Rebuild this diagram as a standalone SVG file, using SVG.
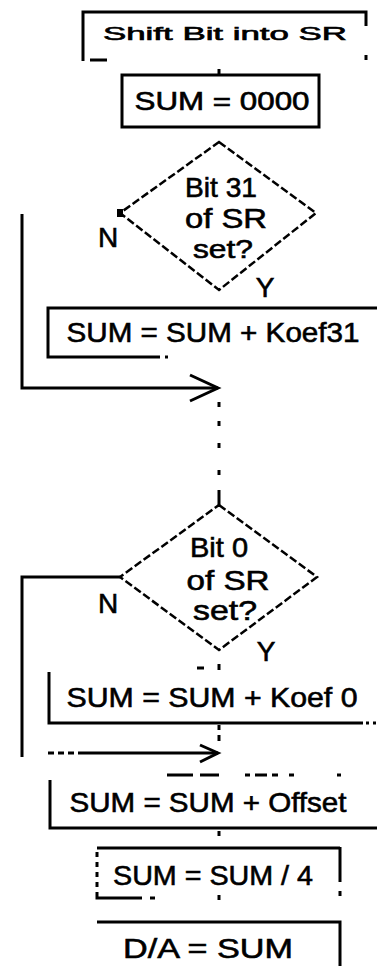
<svg xmlns="http://www.w3.org/2000/svg" width="377" height="966" viewBox="0 0 377 966">
<style>
.ln{fill:none;stroke:#000;stroke-width:3;stroke-linecap:butt}
.dm{fill:none;stroke:#000;stroke-width:2.5;stroke-dasharray:8 3}
.t{font-family:"Liberation Sans",Arial,sans-serif;fill:#000;stroke:#000;stroke-width:0.6;text-anchor:middle}
.big{font-size:28px}
.sm{font-size:18px}
</style>
<defs>
<marker id="chev" markerWidth="12" markerHeight="12" refX="0" refY="0" orient="auto" markerUnits="userSpaceOnUse" viewBox="-28 -15 30 30">
<path d="M-27,-13 L0,0 L-27,13" fill="none" stroke="#000" stroke-width="3"/>
</marker>
</defs>
<rect width="377" height="966" fill="#fff"/>

<g id="connectors">
<line class="ln" x1="219" y1="69" x2="219" y2="75"/>
<polyline class="ln" points="22,214 22,388 218,388"/>
<path class="ln" d="M190,375 L218,388 L190,401"/>
<path class="ln" d="M219,402 v5 M219,421 v5 M219,443 v5 M219,470 v5 M219,490 v15"/>
<polyline class="ln" points="120,577 22,577 22,757"/>
<path class="ln" d="M48,753 h6 M58,753 h6 M68,753 h6 M78,753 H218"/>
<path class="ln" d="M200,745 L218,753 L200,762"/>
<path class="ln" d="M219,664 v6 M197,668 h7"/>
<path class="ln" d="M219,725 v5 M219,735 v6"/>
<path class="ln" d="M219,831 v5"/>
<path class="ln" d="M219,895 v5"/>
</g>

<g id="n1">
<path class="ln" d="M83,61 V12 H366 V26"/>
<path class="ln" d="M90,60 h17 M366,55 v5"/>
<text class="t sm" x="225" y="40" textLength="244" lengthAdjust="spacingAndGlyphs">Shift Bit into SR</text>
</g>

<g id="n2">
<rect class="ln" x="122" y="75" width="197" height="52"/>
<text class="t" style="font-size:25px" x="222" y="110" textLength="175" lengthAdjust="spacingAndGlyphs">SUM = 0000</text>
</g>

<g id="d1">
<polygon class="dm" points="219,142 316,213 219,290 120,213"/>
<rect x="117" y="209" width="6" height="8" fill="#000"/>
<text class="t big" x="221" y="197" textLength="72" lengthAdjust="spacingAndGlyphs">Bit 31</text>
<text class="t big" x="226" y="228" textLength="82" lengthAdjust="spacingAndGlyphs">of SR</text>
<text class="t" style="font-size:25px" x="223" y="258" textLength="60" lengthAdjust="spacingAndGlyphs">set?</text>
<text class="t big" x="108" y="247">N</text>
<text class="t big" x="265" y="297">Y</text>
</g>

<g id="n3">
<path class="ln" d="M377,308 H48 V357 H160"/>
<path class="ln" d="M165,357 h3"/>
<text class="t big" x="213" y="342" textLength="293" lengthAdjust="spacingAndGlyphs">SUM = SUM + Koef31</text>
</g>

<g id="d2">
<polygon class="dm" points="219,505 317,577 219,650 120,577"/>
<text class="t big" x="219" y="557" textLength="58" lengthAdjust="spacingAndGlyphs">Bit 0</text>
<text class="t big" x="228" y="590" textLength="83" lengthAdjust="spacingAndGlyphs">of SR</text>
<text class="t big" x="225" y="620" textLength="64" lengthAdjust="spacingAndGlyphs">set?</text>
<text class="t big" x="108" y="613">N</text>
<text class="t big" x="266" y="661">Y</text>
</g>

<g id="n4">
<path class="ln" d="M49,672 V723 H363"/>
<path class="ln" d="M366,723 h3 M373,723 h3"/>
<text class="t big" x="212" y="707" textLength="291" lengthAdjust="spacingAndGlyphs">SUM = SUM + Koef 0</text>
</g>

<g id="n5">
<path class="ln" d="M167,775 h26 M200,775 h19 M245,775 h5 M255,775 h12 M272,775 h6 M289,775 h5 M337,775 h4"/>
<path class="ln" d="M50,780 V828 H377"/>
<text class="t big" x="208" y="812" textLength="277" lengthAdjust="spacingAndGlyphs">SUM = SUM + Offset</text>
</g>

<g id="n6">
<path class="ln" d="M97,848 H340 M340,847 V882 M340,891 v5"/>
<path class="ln" d="M97,852 v5 M97,862 v5 M97,872 v5 M97,882 v5 M97,892 v6 H142 M150,898 h5"/>
<text class="t big" x="213" y="885" textLength="200" lengthAdjust="spacingAndGlyphs">SUM = SUM / 4</text>
</g>

<g id="n7">
<path class="ln" d="M97,922 H340 V966"/>
<text class="t big" x="208" y="958" textLength="170" lengthAdjust="spacingAndGlyphs">D/A = SUM</text>
</g>
</svg>
